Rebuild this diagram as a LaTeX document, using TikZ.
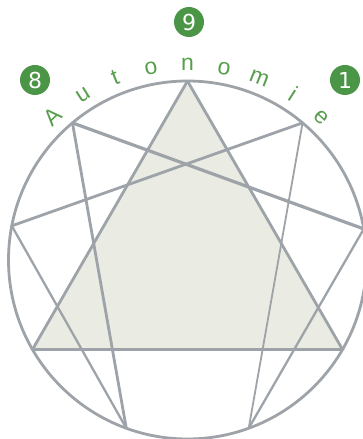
\documentclass[tikz,border=0pt]{standalone}
\usepackage{fontspec}
\setmainfont{DejaVu Sans}
\newfontfamily\letterfont{Liberation Sans}
\usetikzlibrary{calc}
\definecolor{ennGreen}{RGB}{75,149,70}
\definecolor{ennText}{RGB}{88,158,78}
\definecolor{ennGrey}{RGB}{157,163,168}
\definecolor{ennFill}{RGB}{234,236,227}
\tikzset{
  numbadge/.style={circle, fill=ennGreen, minimum size=30pt, inner sep=0pt, text=white, font=\fontsize{22}{22}\selectfont},
  arcletter/.style={text=ennText, anchor=base, inner sep=0pt, font=\letterfont\fontsize{23}{23}\selectfont},
  ennline/.style={draw=ennGrey, line cap=round, line join=round}
}
\begin{document}
\begin{tikzpicture}[x=1pt,y=1pt]
\useasboundingbox (0,0) rectangle (363,439);
\coordinate (C) at (187.5,179);
\def\R{179}
\coordinate (p9) at ($(C)+(90:\R)$);
\coordinate (p1) at ($(C)+(50:\R)$);
\coordinate (p2) at ($(C)+(10:\R)$);
\coordinate (p3) at ($(C)+(-30:\R)$);
\coordinate (p4) at ($(C)+(-70:\R)$);
\coordinate (p5) at ($(C)+(-110:\R)$);
\coordinate (p6) at ($(C)+(-150:\R)$);
\coordinate (p7) at ($(C)+(-191:\R)$);
\coordinate (p8) at ($(C)+(-230:\R)$);
% triangle
\fill[ennFill] (p9) -- (p3) -- (p6) -- cycle;
% circle
\draw[ennline, line width=2.8pt] (C) circle (\R);
% hexad
\draw[ennline, line width=1.8pt] (p1) -- (p4);
\draw[ennline, line width=2.3pt] (p4) -- (p2);
\draw[ennline, line width=3.2pt] (p2) -- (p8);
\draw[ennline, line width=2.8pt] (p8) -- (p5);
\draw[ennline, line width=2.3pt] (p5) -- (p7);
\draw[ennline, line width=2.8pt] (p7) -- (p1);
% triangle sides
\draw[ennline, line width=2.8pt] (p9) -- (p3);
\draw[ennline, line width=2.8pt] (p9) -- (p6);
\draw[ennline, line width=3.6pt] (p6) -- (p3);
% number badges
\node[numbadge] (n9) at (189,417) {9};
\node[numbadge] (n8) at (35,359) {8};
\node[numbadge] (n1) at (345,359) {1};
% arc text
\foreach \ch [count=\i from 0] in {A,u,t,o,n,o,m,i,e} {
  \pgfmathsetmacro{\ang}{133.2-10.8*\i}
  \node[arcletter, rotate=\ang-90] (l\i) at ($(C)+(\ang:189)$) {\ch};
}
\end{tikzpicture}
\end{document}
